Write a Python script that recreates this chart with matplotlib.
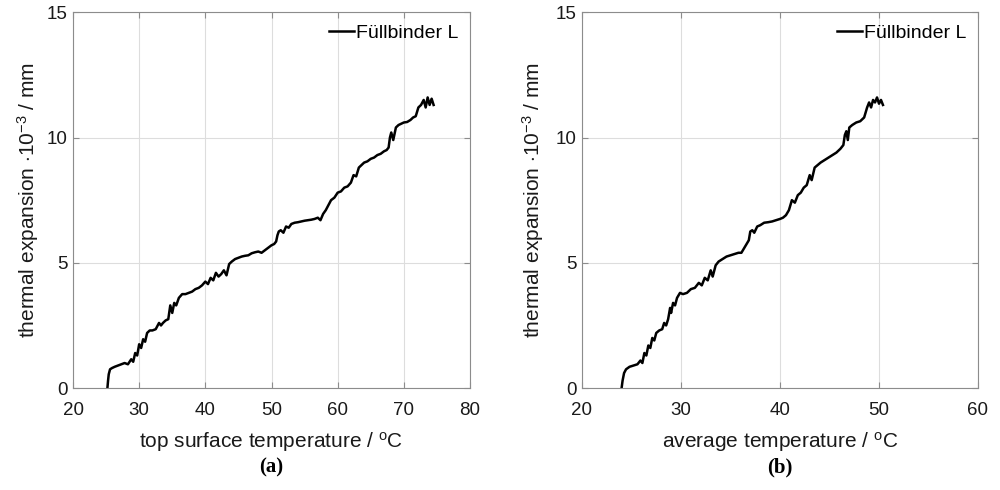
import matplotlib
matplotlib.use("Agg")
import matplotlib.pyplot as plt

plt.rcParams['font.family'] = ['Liberation Sans', 'DejaVu Sans']
plt.rcParams['mathtext.fontset'] = 'custom'
plt.rcParams['mathtext.rm'] = 'Liberation Sans'
plt.rcParams['mathtext.it'] = 'Liberation Sans'

series_label = "Füllbinder L"

x_top = [25.2, 25.3, 25.4, 25.6, 25.9, 26.3, 26.8, 27.3, 27.8, 28.3,
         28.8, 29.1, 29.4, 29.7, 30.0, 30.3, 30.6, 30.9, 31.2, 31.6,
         32.0, 32.5, 33.0, 33.3, 33.6, 34.0, 34.4, 34.7, 35.0, 35.3,
         35.6, 36.0, 36.5, 37.0, 37.5, 38.0, 38.5, 39.0, 39.5, 40.0,
         40.4, 40.8, 41.2, 41.6, 42.0, 42.4, 42.8, 43.2, 43.6, 44.0,
         44.5, 45.0, 45.5, 46.0, 46.5, 47.0, 47.5, 48.0, 48.5, 49.0,
         49.5, 50.0, 50.4, 50.7, 50.9, 51.1, 51.4, 51.8, 52.2, 52.6,
         53.0, 53.5, 54.0, 54.5, 55.0, 55.5, 56.0, 56.5, 57.0, 57.4,
         57.8, 58.2, 58.6, 59.0, 59.5, 60.0, 60.5, 61.0, 61.5, 62.0,
         62.4, 62.8, 63.2, 63.6, 64.0, 64.5, 65.0, 65.5, 66.0, 66.5,
         67.0, 67.4, 67.7, 67.9, 68.1, 68.4, 68.8, 69.2, 69.6, 70.0,
         70.5, 71.0, 71.4, 71.8, 72.2, 72.6, 73.0, 73.3, 73.6, 73.9,
         74.2, 74.5]
y_top = [0.0, 0.3, 0.55, 0.75, 0.8, 0.85, 0.9, 0.95, 1.0, 0.95,
         1.15, 1.05, 1.4, 1.3, 1.75, 1.6, 1.95, 1.85, 2.2, 2.3,
         2.3, 2.35, 2.6, 2.5, 2.6, 2.7, 2.75, 3.3, 3.0, 3.4,
         3.3, 3.6, 3.75, 3.75, 3.8, 3.85, 3.95, 4.0, 4.1, 4.25,
         4.15, 4.4, 4.3, 4.6, 4.45, 4.55, 4.7, 4.5, 4.95, 5.05,
         5.15, 5.2, 5.25, 5.28, 5.3, 5.38, 5.42, 5.45, 5.4, 5.5,
         5.6, 5.7, 5.75, 5.85, 6.1, 6.25, 6.3, 6.2, 6.45, 6.4,
         6.55, 6.6, 6.62, 6.65, 6.68, 6.7, 6.72, 6.75, 6.8, 6.7,
         6.95, 7.1, 7.3, 7.5, 7.6, 7.8, 7.85, 8.0, 8.05, 8.2,
         8.5, 8.45, 8.8, 8.9, 9.0, 9.05, 9.15, 9.2, 9.3, 9.35,
         9.45, 9.5, 9.6, 10.0, 10.2, 9.9, 10.4, 10.5, 10.55, 10.6,
         10.62, 10.7, 10.8, 10.85, 11.2, 11.3, 11.5, 11.2, 11.6, 11.3,
         11.55, 11.3]

x_avg = [24.0, 24.1, 24.25, 24.45, 24.8, 25.2, 25.6, 25.9, 26.1, 26.3,
         26.5, 26.7, 26.9, 27.1, 27.3, 27.5, 27.8, 28.1, 28.3, 28.5,
         28.7, 28.9, 29.0, 29.2, 29.4, 29.6, 29.9, 30.2, 30.6, 31.0,
         31.4, 31.8, 32.1, 32.4, 32.7, 33.0, 33.2, 33.5, 33.8, 34.2,
         34.6, 35.0, 35.4, 35.8, 36.1, 36.4, 36.7, 36.85, 37.0, 37.2,
         37.4, 37.7, 38.0, 38.4, 38.8, 39.2, 39.6, 40.0, 40.3, 40.6,
         40.9, 41.2, 41.5, 41.8, 42.1, 42.4, 42.7, 43.0, 43.2, 43.5,
         43.8, 44.1, 44.5, 44.9, 45.3, 45.7, 46.1, 46.4, 46.55, 46.7,
         46.85, 47.0, 47.3, 47.7, 48.1, 48.5, 48.8, 49.0, 49.2, 49.4,
         49.6, 49.8, 50.0, 50.2, 50.4]
y_avg = [0.0, 0.3, 0.6, 0.75, 0.85, 0.9, 0.95, 1.1, 1.0, 1.4,
         1.3, 1.7, 1.6, 2.0, 1.9, 2.2, 2.3, 2.35, 2.6, 2.5,
         2.75, 3.2, 3.0, 3.4, 3.3, 3.6, 3.8, 3.75, 3.8, 3.95,
         4.0, 4.2, 4.1, 4.4, 4.3, 4.7, 4.45, 4.9, 5.05, 5.15,
         5.25, 5.3, 5.35, 5.4, 5.4, 5.6, 5.8, 5.9, 6.25, 6.3,
         6.2, 6.45, 6.5, 6.6, 6.62, 6.65, 6.7, 6.75, 6.8, 6.9,
         7.1, 7.5, 7.4, 7.7, 7.8, 8.0, 8.1, 8.5, 8.3, 8.8,
         8.9, 9.0, 9.1, 9.2, 9.3, 9.4, 9.55, 9.7, 10.1, 10.25,
         9.9, 10.4, 10.5, 10.6, 10.65, 10.8, 11.2, 11.4, 11.2, 11.5,
         11.4, 11.6, 11.35, 11.5, 11.3]

x_ticks_a = [20, 30, 40, 50, 60, 70, 80]
x_ticks_b = [20, 30, 40, 50, 60]
y_ticks = [0, 5, 10, 15]

fig = plt.figure(figsize=(10, 4.9), dpi=100)
ax1 = fig.add_axes([0.073, 0.208, 0.397, 0.767])
ax2 = fig.add_axes([0.582, 0.208, 0.396, 0.767])

panels = [
    (ax1, x_top, y_top, x_ticks_a, r'top surface temperature / $^{\mathrm{o}}$C', '(a)', -0.08),
    (ax2, x_avg, y_avg, x_ticks_b, r'average temperature / $^{\mathrm{o}}$C', '(b)', -0.09),
]

for ax, xs, ys, xt, xl, cap, ylx in panels:
    ax.plot(xs, ys, color='black', lw=1.8, label=series_label)
    ax.set_xlim(xt[0], xt[-1])
    ax.set_ylim(0, 15)
    ax.set_xticks(xt)
    ax.set_yticks(y_ticks)
    ax.grid(True, color='#dddddd', lw=0.8)
    ax.set_axisbelow(True)
    for s in ax.spines.values():
        s.set_color('#8c8c8c')
        s.set_linewidth(0.8)
    ax.tick_params(direction='in', length=4, color='#8c8c8c', labelsize=13.5,
                   labelcolor='#1a1a1a', top=True, right=True)
    ax.tick_params(axis='x', pad=10)
    ax.tick_params(axis='y', pad=4)
    ax.set_xlabel(xl, fontsize=15, color='#1a1a1a', labelpad=8)
    ax.set_ylabel(r'thermal expansion $\cdot$10$^{-3}$ / mm', fontsize=15,
                  color='#1a1a1a')
    ax.yaxis.set_label_coords(ylx, 0.5)
    ax.legend(loc='upper right', frameon=False, fontsize=14,
              handlelength=1.3, handletextpad=0.1, borderaxespad=0.2)
    bb = ax.get_position()
    fig.text((bb.x0 + bb.x1) / 2, 0.045, cap, ha='center', va='center',
             fontsize=15, fontweight='bold', family='Liberation Serif')

fig.savefig('out.png', dpi=100)
